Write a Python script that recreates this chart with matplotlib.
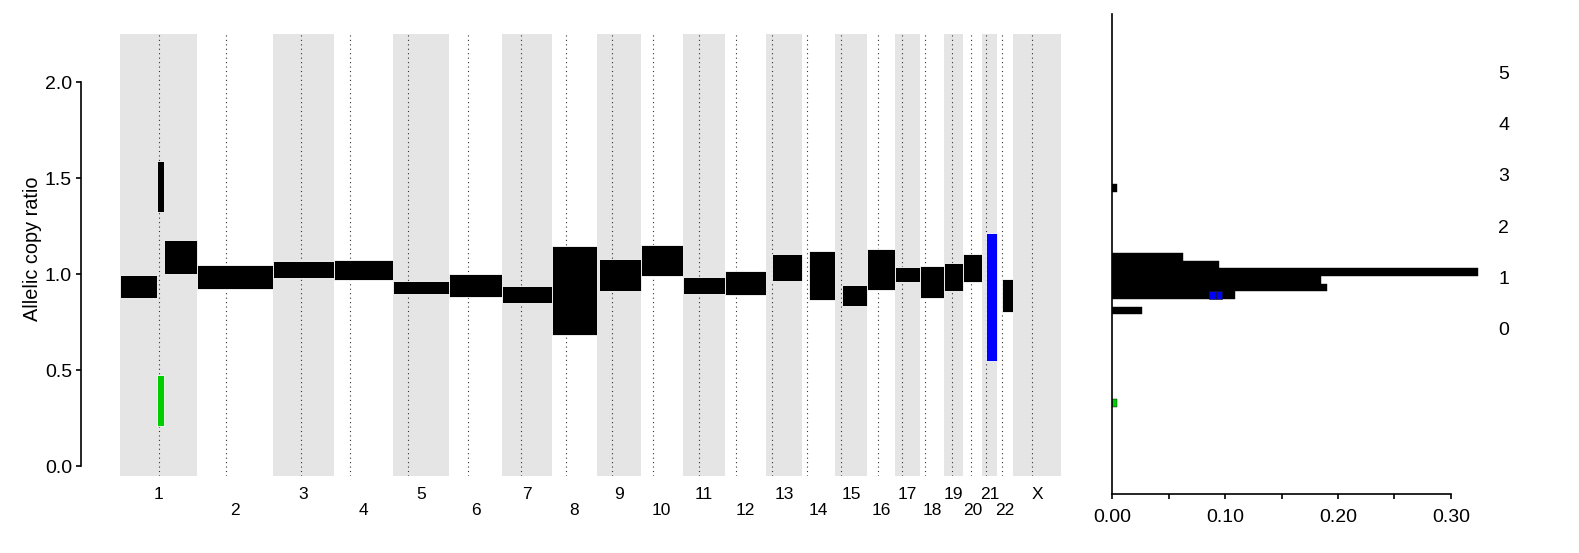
import matplotlib
matplotlib.use('Agg')
import matplotlib.pyplot as plt
import numpy as np

plt.rcParams['font.family'] = ['Liberation Sans', 'DejaVu Sans']

# chromosome sizes and centromere midpoints (Mb, hg19)
chrom_names = ['1', '2', '3', '4', '5', '6', '7', '8', '9', '10', '11', '12',
               '13', '14', '15', '16', '17', '18', '19', '20', '21', '22', 'X']
chrom_len = [249.25, 243.20, 198.02, 191.15, 180.92, 171.12, 159.14, 146.36,
             141.21, 135.53, 135.01, 133.85, 115.17, 107.35, 102.53, 90.35,
             81.20, 78.08, 59.13, 63.03, 48.13, 51.30, 155.27]
centromere = [125.0, 93.3, 91.0, 50.4, 48.4, 61.0, 59.9, 45.6, 49.0, 40.2, 53.7,
              35.8, 17.9, 17.6, 19.0, 36.6, 24.0, 17.2, 26.5, 27.5, 13.2, 14.7, 60.6]

# segments: chromosome, start/end (Mb), lower/upper allelic copy ratio
seg_chrom = ['1', '1', '1', '1', '2', '3', '4', '5', '6', '7', '8', '9', '10', '11',
             '12', '13', '14', '15', '16', '17', '18', '19', '20', '21', '22']
seg_start = [0, 119.5, 119.5, 142, 0, 0, 0, 0, 0, 0, 0, 5, 0, 0,
             0, 20, 22, 22, 0, 0, 0, 0, 0, 13, 16]
seg_end = [119.5, 142, 142, 249.25, 243.2, 198.0, 191.1, 180.9, 171.1, 159.1, 146.4,
           141.2, 135.5, 135.0, 133.8, 115.2, 107.3, 102.5, 90.3, 81.2, 78.1, 59.1,
           63.0, 48.1, 51.3]
seg_lower = [0.877, 1.325, 0.210, 1.000, 0.924, 0.981, 0.970, 0.898, 0.882, 0.851,
             0.684, 0.913, 0.990, 0.898, 0.892, 0.965, 0.866, 0.835, 0.918, 0.960,
             0.877, 0.913, 0.960, 0.548, 0.804]
seg_upper = [0.995, 1.589, 0.474, 1.177, 1.047, 1.068, 1.073, 0.964, 1.000, 0.937,
             1.146, 1.078, 1.151, 0.984, 1.016, 1.104, 1.120, 0.943, 1.130, 1.036,
             1.042, 1.057, 1.104, 1.215, 0.976]
seg_color = ['black', 'black', '#00CD00', 'black', 'black', 'black', 'black', 'black',
             'black', 'black', 'black', 'black', 'black', 'black', 'black', 'black',
             'black', 'black', 'black', 'black', 'black', 'black', 'black', '#0000FF',
             'black']

# genome fraction histogram (bins of 0.04)
hist_lo = [0.32, 0.80, 0.88, 0.92, 0.96, 1.00, 1.04, 1.08, 1.44]
hist_frac = [0.0044, 0.026, 0.109, 0.1906, 0.185, 0.3245, 0.0949, 0.0629, 0.0044]
hist_color = ['#00CD00', 'black', 'black', 'black', 'black', 'black', 'black', 'black', 'black']
blue_left = [0.0860, 0.0920]
blue_width = [0.0057, 0.0055]
blue_bin = [0.88, 0.88]

W, H = 1579, 553
fig = plt.figure(figsize=(W / 100, H / 100), dpi=100)


def box(l, t, r, b):
    return [l / W, 1 - b / H, (r - l) / W, (b - t) / H]


# left panel
ax = fig.add_axes(box(120, 34, 1061, 475.7))
cum = np.concatenate([[0], np.cumsum(chrom_len)])
ax.set_xlim(0, cum[-1])
ax.set_ylim(-0.05, 2.25)

for i in range(0, len(chrom_len), 2):
    ax.axvspan(cum[i], cum[i + 1], color='#E5E5E5', lw=0, zorder=0)
ax.vlines(cum[:-1] + np.array(centromere), -0.05, 2.25, colors='#333333',
          linestyles=(0, (1, 3)), lw=0.8, zorder=1)

idx = [chrom_names.index(c) for c in seg_chrom]
x0 = cum[idx] + np.array(seg_start)
ax.bar(x0, np.array(seg_upper) - np.array(seg_lower),
       width=np.array(seg_end) - np.array(seg_start), bottom=seg_lower,
       align='edge', color=seg_color, edgecolor='white', lw=0.6, zorder=2)

for s in ['top', 'right', 'bottom']:
    ax.spines[s].set_visible(False)
ax.spines['left'].set_position(('outward', 28))
ax.spines['left'].set_bounds(0, 2)
ax.spines['left'].set_linewidth(1.2)
ax.set_yticks([0, 0.5, 1.0, 1.5, 2.0])
ax.set_yticklabels(['0.0', '0.5', '1.0', '1.5', '2.0'])
ax.tick_params(axis='y', length=3.5, width=1.2, labelsize=14, pad=3)

mids = (cum[:-1] + cum[1:]) / 2
ax.set_xticks(mids[0::2])
ax.set_xticklabels(chrom_names[0::2])
ax.set_xticks(mids[1::2], minor=True)
ax.set_xticklabels(chrom_names[1::2], minor=True)
ax.tick_params(axis='x', which='both', length=0, labelsize=12.5)
ax.tick_params(axis='x', which='major', pad=8)
ax.tick_params(axis='x', which='minor', pad=20)

ax.set_ylabel('Allelic copy ratio', fontsize=14.3)
ax.yaxis.set_label_coords(-0.083, 0.514)

# right panel
axr = fig.add_axes(box(1112.3, 14, 1484.6, 494))
axr.set_xlim(0, 0.33)
axr.set_ylim(-0.1354, 2.3646)
axr.barh(hist_lo, hist_frac, height=0.04, align='edge', color=hist_color,
         edgecolor='black', lw=0.3)
axr.barh(blue_bin, blue_width, left=blue_left, height=0.04, align='edge',
         color='#0000FF', edgecolor='#1a1a1a', lw=0.4)

# labels 0-5 on the right
axt = axr.twinx()
axt.set_ylim(-3.232, 6.143)
axt.set_yticks(range(6))
axt.tick_params(axis='y', length=0, pad=10, labelsize=14)
for s in axt.spines.values():
    s.set_visible(False)

for s in ['top', 'right']:
    axr.spines[s].set_visible(False)
axr.spines['left'].set_linewidth(1.2)
axr.spines['bottom'].set_linewidth(1.2)
axr.spines['bottom'].set_bounds(0, 0.30)
axr.tick_params(axis='y', left=False, right=False, labelleft=False)
axr.set_xticks([0, 0.10, 0.20, 0.30])
axr.set_xticklabels(['0.00', '0.10', '0.20', '0.30'])
axr.set_xticks([0.05, 0.15, 0.25], minor=True)
axr.tick_params(axis='x', which='both', length=3.5, width=1.2, labelsize=14, pad=7)

fig.savefig('out.png', dpi=100)
